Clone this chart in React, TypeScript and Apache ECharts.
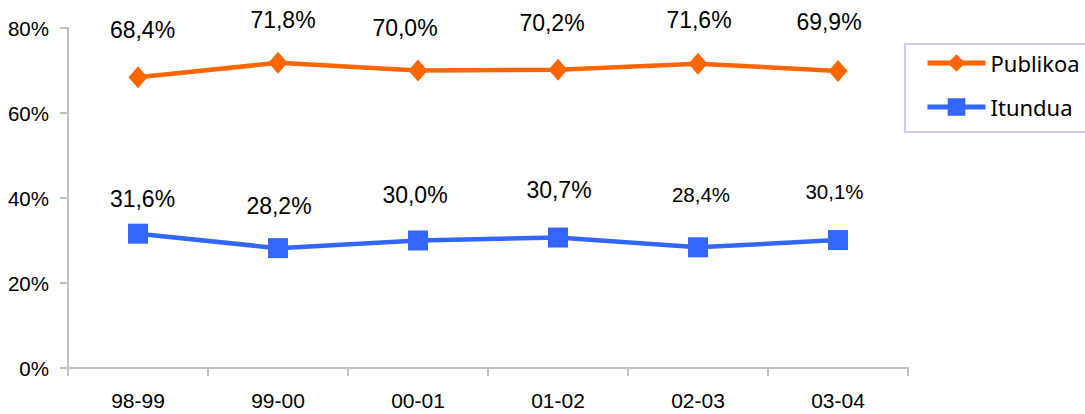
import React, { useEffect, useRef } from "react";
import * as echarts from "echarts";

const categories = ["98-99", "99-00", "00-01", "01-02", "02-03", "03-04"];
const publikoa = [68.4, 71.8, 70.0, 70.2, 71.6, 69.9];
const itundua = [31.6, 28.2, 30.0, 30.7, 28.4, 30.1];
const yTicks = [0, 20, 40, 60, 80];
const seriesNames = ["Publikoa", "Itundua"];

// label placement tweaks (dx, dy, fontSize) per point
const pubLabelOffsets: [number, number, number][] = [
  [4.5, -47, 23], [5, -43, 23], [-13, -43, 23], [-6, -47, 23], [1, -44, 23], [-9, -48.5, 23],
];
const itLabelOffsets: [number, number, number][] = [
  [4.5, -35, 23], [1, -42, 23], [-3, -45.5, 23], [1, -47.5, 23], [3, -53, 20.5], [-3.5, -49, 20.5],
];

const fmt = (v: number) => v.toFixed(1).replace(".", ",") + "%";

export default function App() {
  const ref = useRef<HTMLDivElement>(null);
  useEffect(() => {
    if (!ref.current) return;
    const chart = echarts.init(ref.current, undefined, { renderer: "svg" });
    const mk = (vals: number[], offs: [number, number, number][]) =>
      vals.map((v, i) => ({
        value: v,
        label: {
          show: true,
          position: "inside",
          offset: [offs[i][0], offs[i][1]],
          fontSize: offs[i][2],
          formatter: () => fmt(v),
        },
      }));
    chart.setOption({
      animation: false,
      backgroundColor: "#ffffff",
      grid: { left: 68, right: 177, top: 28, bottom: 46 },
      legend: {
        orient: "vertical",
        left: 920,
        top: 47,
        itemWidth: 58,
        itemHeight: 22,
        itemGap: 22,
        data: seriesNames,
        lineStyle: { width: 5 },
        textStyle: { fontFamily: "Noto Sans", fontSize: 22, color: "#000" },
      },
      graphic: [
        {
          type: "rect",
          shape: { x: 905, y: 44, width: 200, height: 88 },
          style: { fill: "none", stroke: "#ccccff", lineWidth: 2 },
          silent: true,
        },
      ],
      xAxis: {
        type: "category",
        data: categories,
        boundaryGap: true,
        axisLine: { lineStyle: { color: "#c0c0c0", width: 2 } },
        axisTick: { show: true, length: 8, lineStyle: { color: "#c0c0c0", width: 2 } },
        axisLabel: {
          fontFamily: "Liberation Sans",
          fontSize: 21,
          lineHeight: 21,
          color: "#000",
          margin: 22,
        },
        splitLine: { show: false },
      },
      yAxis: {
        type: "value",
        min: yTicks[0],
        max: yTicks[yTicks.length - 1],
        interval: 20,
        axisLine: { show: true, lineStyle: { color: "#c0c0c0", width: 2 } },
        axisTick: { show: true, length: 8, lineStyle: { color: "#c0c0c0", width: 2 } },
        axisLabel: {
          fontFamily: "Liberation Sans",
          fontSize: 20.5,
          color: "#000",
          margin: 19,
          formatter: "{value}%",
        },
        splitLine: { show: false },
      },
      series: [
        {
          name: seriesNames[0],
          type: "line",
          data: mk(publikoa, pubLabelOffsets),
          symbol: "diamond",
          symbolSize: [19, 22],
          color: "#ff6600",
          lineStyle: { color: "#ff6600", width: 4.5 },
          itemStyle: { color: "#ff6600" },
          label: { fontFamily: "Liberation Sans", color: "#000" },
          z: 3,
        },
        {
          name: seriesNames[1],
          type: "line",
          data: mk(itundua, itLabelOffsets),
          symbol: "rect",
          symbolSize: 20,
          color: "#3366ff",
          lineStyle: { color: "#3366ff", width: 4.5 },
          itemStyle: { color: "#3366ff" },
          label: { fontFamily: "Liberation Sans", color: "#000" },
          z: 3,
        },
      ],
    });
    return () => chart.dispose();
  }, []);
  return (
    <div
      ref={ref}
      style={{ position: "absolute", left: 0, top: 0, width: 1085, height: 414 }}
    />
  );
}
